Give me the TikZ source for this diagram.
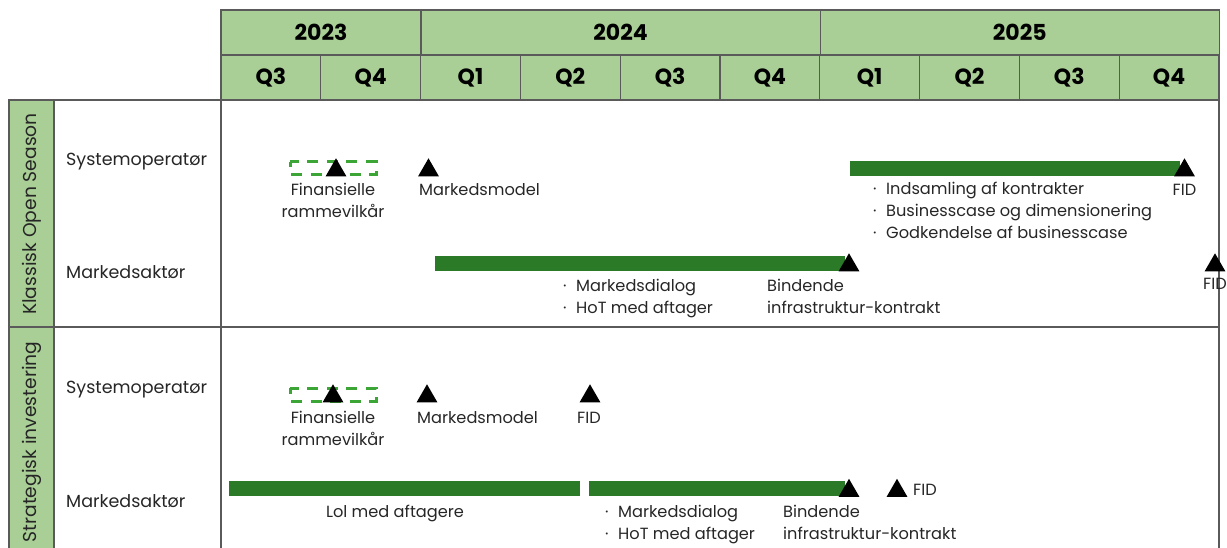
\documentclass[tikz,border=0pt]{standalone}
\usepackage{fontspec}
\setmainfont{Poppins}
\usetikzlibrary{shapes.geometric}
\definecolor{headgreen}{HTML}{A9CF96}
\definecolor{bargreen}{HTML}{2B7A28}
\definecolor{dashgreen}{HTML}{3BA535}
\definecolor{gridgray}{HTML}{5A5A5A}
\newcommand{\pkt}{\makebox[13pt][l]{·}}

\begin{document}
\begin{tikzpicture}[x=1pt,y=-1pt,
	every node/.style={inner sep=0pt,text=black!85,font=\fontsize{16.2}{22}\selectfont},
	rowlabel/.style={anchor=base west,font=\fontsize{17.5}{22}\selectfont},
	headcell/.style={draw=gridgray,line width=1.2pt,fill=headgreen,text=black,
		font=\fontsize{22}{24}\selectfont\bfseries,minimum height=45pt},
	milestone/.style={regular polygon,regular polygon sides=3,fill=black,
		minimum size=24pt,anchor=south},
	bar/.style={fill=bargreen},
	optbox/.style={draw=dashgreen,line width=3pt,dash pattern=on 11pt off 8.5pt,dash phase=5.5pt}]
	\useasboundingbox (0,0) rectangle (1227,548);

	% tidslinje
	\node[headcell,minimum width=200pt] (y23) at (321,32.5) {2023};
	\node[headcell,minimum width=399.2pt] (y24) at (620.6,32.5) {2024};
	\node[headcell,minimum width=399.2pt] (y25) at (1019.8,32.5) {2025};
	\foreach \q [count=\i from 0] in {Q3,Q4,Q1,Q2,Q3,Q4,Q1,Q2,Q3,Q4}
		\node[headcell,minimum width=99.8pt] (q\i) at (221+99.8*\i+49.9,77.5) {\q};

	% rammer
	\filldraw[fill=headgreen,draw=gridgray,line width=1.2pt] (9,100) rectangle (54,560);
	\draw[gridgray,line width=1.2pt] (9,100) -- (221,100);
	\draw[gridgray,line width=1.2pt] (221,100) -- (221,560);
	\draw[gridgray,line width=1.2pt] (1219,100) -- (1219,560);
	\draw[gridgray,line width=1.2pt] (9,327) -- (1219,327);
	\node[rotate=90,font=\fontsize{18.7}{22}\selectfont] (klassisk) at (32,214) {Klassisk Open Season};
	\node[rotate=90,font=\fontsize{18.7}{22}\selectfont] (strategisk) at (32,442) {Strategisk investering};

	% Klassisk Open Season
	\node[rowlabel] (so1) at (66,166) {Systemoperatør};
	\node[rowlabel] (ma1) at (66,279) {Markedsaktør};
	\draw[optbox] (290,162) rectangle (376,175);
	\node[milestone] (fin1) at (336,176.5) {};
	\node[anchor=base,align=center] (fin1txt) at (333,218) {Finansielle\\rammevilkår};
	\node[milestone] (mm1) at (428.5,176.5) {};
	\node[anchor=base west] (mm1txt) at (419,196) {Markedsmodel};
	\fill[bar] (850,161) rectangle (1180,176);
	\node[milestone] (fid1) at (1184.5,176.5) {};
	\node[anchor=base] (fid1txt) at (1184.5,196) {FID};
	\node[anchor=base west,align=left] (pkt1) at (873,239)
		{\pkt Indsamling af kontrakter\\\pkt Businesscase og dimensionering\\\pkt Godkendelse af businesscase};
	\fill[bar] (435,256) rectangle (845,271);
	\node[milestone] (bik1) at (849,271.5) {};
	\node[anchor=base west,align=left] (pkt2) at (563,313)
		{\pkt Markedsdialog\\\pkt HoT med aftager};
	\node[anchor=base west,align=left] (bik1txt) at (767,313)
		{Bindende\\infrastruktur-kontrakt};
	\node[milestone] (fid2) at (1215,271.5) {};
	\node[anchor=base] (fid2txt) at (1215,290) {FID};

	% Strategisk investering
	\node[rowlabel] (so2) at (66,393) {Systemoperatør};
	\node[rowlabel] (ma2) at (66,507) {Markedsaktør};
	\draw[optbox] (290,388) rectangle (376,401);
	\node[milestone] (fin2) at (333,402.5) {};
	\node[anchor=base,align=center] (fin2txt) at (333,445) {Finansielle\\rammevilkår};
	\node[milestone] (mm2) at (427,402.5) {};
	\node[anchor=base west] (mm2txt) at (417,423) {Markedsmodel};
	\node[milestone] (fid3) at (590,402.5) {};
	\node[anchor=base] (fid3txt) at (589,423) {FID};
	\fill[bar] (229,481) rectangle (580,496);
	\node[anchor=base] (loi) at (395,517) {Lol med aftagere};
	\fill[bar] (589,481) rectangle (845,496);
	\node[milestone] (bik2) at (849,497) {};
	\node[milestone] (fid4) at (897,497) {};
	\node[anchor=base west] (fid4txt) at (913,495) {FID};
	\node[anchor=base west,align=left] (pkt3) at (605,539)
		{\pkt Markedsdialog\\\pkt HoT med aftager};
	\node[anchor=base west,align=left] (bik2txt) at (783,539)
		{Bindende\\infrastruktur-kontrakt};
\end{tikzpicture}
\end{document}
